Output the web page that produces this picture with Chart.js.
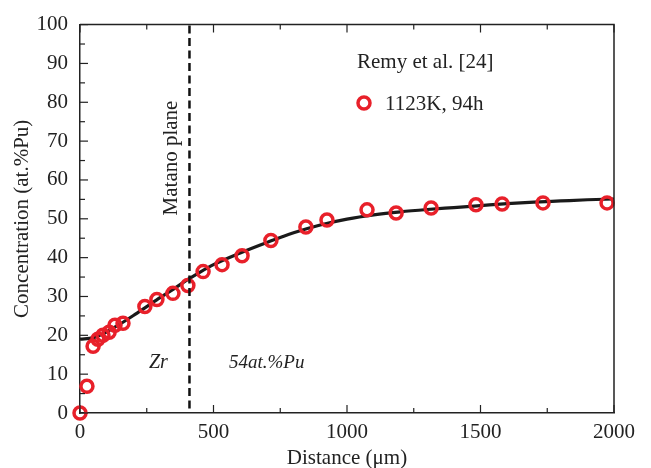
<!DOCTYPE html>
<html><head><meta charset="utf-8">
<script src="https://cdn.jsdelivr.net/npm/chart.js@4/dist/chart.umd.min.js"></script>
<style>html,body{margin:0;padding:0;background:#fff}#w{width:651px;height:468px}</style>
</head><body><div id="w"><canvas id="c"></canvas></div>
<script>
const distance = [0, 26, 49, 67, 86, 109, 131, 161, 243, 288, 348, 404, 461, 532, 607, 715, 846, 925, 1075, 1184, 1315, 1483, 1581, 1734, 1974];
const concentration = [0, 6.9, 17.2, 19.0, 20.0, 20.8, 22.6, 23.1, 27.4, 29.2, 30.8, 32.8, 36.4, 38.2, 40.5, 44.4, 47.9, 49.7, 52.3, 51.5, 52.8, 53.6, 53.8, 54.1, 54.1];
const fitX = [0, 50, 100, 150, 200, 250, 300, 350, 400, 450, 500, 600, 700, 800, 900, 1000, 1100, 1200, 1300, 1400, 1500, 1600, 1700, 1800, 1900, 2000];
const fitY = [19.0, 19.4, 20.9, 22.9, 25.1, 27.4, 29.7, 31.9, 34.2, 36.3, 38.2, 41.2, 43.9, 46.4, 48.4, 49.9, 51.0, 51.8, 52.4, 52.9, 53.4, 53.9, 54.3, 54.6, 54.9, 55.1];
const matanoX = 410;
const xTicks = [0, 500, 1000, 1500, 2000];
const yTicks = [0, 10, 20, 30, 40, 50, 60, 70, 80, 90, 100];
const seriesLabel = '1123K, 94h';
const refLabel = 'Remy et al. [24]';

const RED = '#e8202a';
const serif = "'Liberation Serif', 'DejaVu Serif', serif";

const frame = {
  id: 'frame',
  afterDraw(chart) {
    const ctx = chart.ctx, a = chart.chartArea;
    const xs = chart.scales.x, ys = chart.scales.y;
    ctx.save();
    // dashed Matano line
    const mx = xs.getPixelForValue(matanoX);
    ctx.strokeStyle = '#111'; ctx.lineWidth = 2.5; ctx.setLineDash([8, 4.5]);
    ctx.beginPath(); ctx.moveTo(mx, a.top + 1); ctx.lineTo(mx, a.bottom); ctx.stroke();
    ctx.setLineDash([]);
    // frame
    ctx.strokeStyle = '#222'; ctx.lineWidth = 1.5;
    ctx.beginPath();
    ctx.moveTo(a.left, a.top); ctx.lineTo(a.right, a.top); ctx.lineTo(a.right, a.bottom);
    ctx.stroke();
    ctx.lineWidth = 1.2;
    // inward ticks
    for (let v = 0; v <= 2000; v += 250) {
      const px = xs.getPixelForValue(v);
      const len = v % 500 === 0 ? 8 : 5;
      ctx.beginPath();
      ctx.moveTo(px, a.bottom); ctx.lineTo(px, a.bottom - len);
      ctx.moveTo(px, a.top); ctx.lineTo(px, a.top + len);
      ctx.stroke();
    }
    for (let v = 0; v <= 100; v += 5) {
      const py = ys.getPixelForValue(v);
      const len = v % 10 === 0 ? 8 : 5;
      ctx.beginPath(); ctx.moveTo(a.left, py); ctx.lineTo(a.left + len, py); ctx.stroke();
    }
    // annotations
    ctx.fillStyle = '#222';
    ctx.font = "italic 20px " + serif;
    ctx.textBaseline = 'middle'; ctx.textAlign = 'left';
    ctx.fillText('Zr', 149, 363);
    ctx.font = "italic 19px " + serif;
    ctx.fillText('54at.%Pu', 229, 363);
    ctx.font = "21px " + serif;
    ctx.fillText(refLabel, 357, 62);
    ctx.fillText(seriesLabel, 385, 104);
    ctx.strokeStyle = RED; ctx.lineWidth = 3.5;
    ctx.beginPath(); ctx.arc(364, 103, 6, 0, Math.PI * 2); ctx.stroke();
    ctx.save();
    ctx.translate(171, 158); ctx.rotate(-Math.PI / 2);
    ctx.fillStyle = '#222'; ctx.textAlign = 'center'; ctx.font = "21px " + serif;
    ctx.fillText('Matano plane', 0, 0);
    ctx.restore();
    ctx.restore();
  }
};

new Chart(document.getElementById('c'), {
  type: 'scatter',
  data: {
    datasets: [
      {
        type: 'line', label: 'fit',
        data: fitX.map((x, i) => ({x, y: fitY[i]})),
        borderColor: '#1a1a1a', borderWidth: 3.2, pointRadius: 0,
        cubicInterpolationMode: 'monotone', fill: false, order: 2
      },
      {
        label: seriesLabel,
        data: distance.map((x, i) => ({x, y: concentration[i]})),
        pointStyle: 'circle', pointRadius: 6, borderWidth: 3.5,
        borderColor: RED, backgroundColor: 'rgba(255,255,255,0)', order: 1,
        clip: false
      }
    ]
  },
  options: {
    responsive: true, maintainAspectRatio: false, animation: false,
    layout: { padding: { left: 0, top: 23, right: 37, bottom: 0 } },
    plugins: { legend: { display: false }, tooltip: { enabled: false } },
    scales: {
      x: {
        type: 'linear', min: 0, max: 2000,
        afterBuildTicks: s => { s.ticks = xTicks.map(v => ({value: v})); },
        afterFit: s => { s.height = 55; },
        grid: { display: false, drawTicks: false },
        border: { display: true, color: '#222', width: 1.5 },
        ticks: { color: '#222', padding: 7, font: { family: serif, size: 21 }, maxRotation: 0,
                 callback: v => String(v) },
        title: { display: true, text: 'Distance (\u03bcm)', color: '#222', font: { family: serif, size: 21 }, padding: { top: -3, bottom: -3 } }
      },
      y: {
        type: 'linear', min: 0, max: 100,
        afterBuildTicks: s => { s.ticks = yTicks.map(v => ({value: v})); },
        afterFit: s => { s.width = 80; },
        grid: { display: false, drawTicks: false },
        border: { display: true, color: '#222', width: 1.5 },
        ticks: { color: '#222', padding: 12, font: { family: serif, size: 21 }, callback: v => String(v) },
        title: { display: true, text: 'Concentration (at.%Pu)', color: '#222', font: { family: serif, size: 21 }, padding: { top: 10, bottom: 0 } }
      }
    }
  },
  plugins: [frame]
});
</script></body></html>
